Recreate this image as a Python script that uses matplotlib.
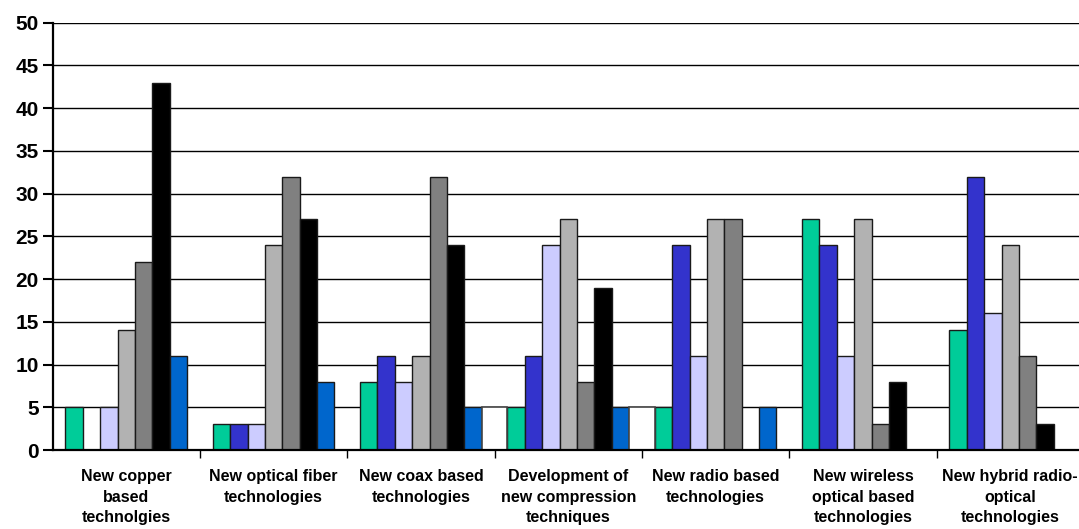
import matplotlib
matplotlib.use("Agg")
import matplotlib.pyplot as plt
import numpy as np

categories = [
    "New copper\nbased\ntechnolgies",
    "New optical fiber\ntechnologies",
    "New coax based\ntechnologies",
    "Development of\nnew compression\ntechniques",
    "New radio based\ntechnologies",
    "New wireless\noptical based\ntechnologies",
    "New hybrid radio-\noptical\ntechnologies",
]

# one list per series, in drawing order within each group
teal      = [5, 3, 8, 5, 5, 27, 14]
blue      = [0, 3, 11, 11, 24, 24, 32]
lavender  = [5, 3, 8, 24, 11, 11, 16]
lightgray = [14, 24, 11, 27, 27, 27, 24]
gray      = [22, 32, 32, 8, 27, 3, 11]
black     = [43, 27, 24, 19, 0, 8, 3]
azure     = [11, 8, 5, 5, 5, 0, 0]
white     = [0, 0, 5, 5, 0, 0, 0]

series = [teal, blue, lavender, lightgray, gray, black, azure]
colors = ["#00CC99", "#3333CC", "#CCCCFF", "#B2B2B2", "#808080", "#000000", "#0066CC"]

plt.rcParams['font.family'] = ['Liberation Sans', 'DejaVu Sans']

fig = plt.figure(figsize=(10.79, 5.29), dpi=100)
ax = fig.add_axes([0.0488, 0.1493, 0.9558, 0.8078])

x = np.arange(len(categories))
bar_w = 0.1178
offset = 0.087

for j, (vals, col) in enumerate(zip(series, colors)):
    xs = x - 0.5 + offset + (j + 0.5) * bar_w
    v = np.array(vals, dtype=float)
    keep = v > 0
    ax.bar(xs[keep], v[keep], width=bar_w, color=col, edgecolor="#1a1a1a",
           linewidth=1.0, zorder=3)

# white series sits between groups
w_left = x - 0.5 + offset + 7 * bar_w
w_width = 1.0 - 7 * bar_w
v = np.array(white, dtype=float)
keep = v > 0
ax.bar(w_left[keep], v[keep], width=w_width, align="edge", color="white",
       edgecolor="#444444", linewidth=1.2, zorder=3)

ax.set_xlim(-0.5, len(categories) - 0.5)
ax.set_ylim(0, 50)
ax.set_yticks(range(0, 51, 5))
ax.yaxis.grid(True, color="black", linewidth=1.0, zorder=0)
ax.set_axisbelow(True)

ax.set_xticks(x)
ax.set_xticklabels(categories, fontsize=11.5, fontweight="bold", linespacing=1.45)
ax.tick_params(axis="x", which="major", length=0, pad=14)
ax.set_xticks(np.arange(len(categories)) + 0.5, minor=True)
ax.tick_params(axis="x", which="minor", length=6, width=1.0, direction="out")
ax.tick_params(axis="y", length=7, width=1.5, direction="out", labelsize=15, pad=3)
for lbl in ax.get_yticklabels():
    lbl.set_fontweight("bold")

for side in ["top", "right"]:
    ax.spines[side].set_visible(False)
for side in ["left", "bottom"]:
    ax.spines[side].set_linewidth(1.6)
    ax.spines[side].set_zorder(4)

fig.savefig("out.png", dpi=100)
